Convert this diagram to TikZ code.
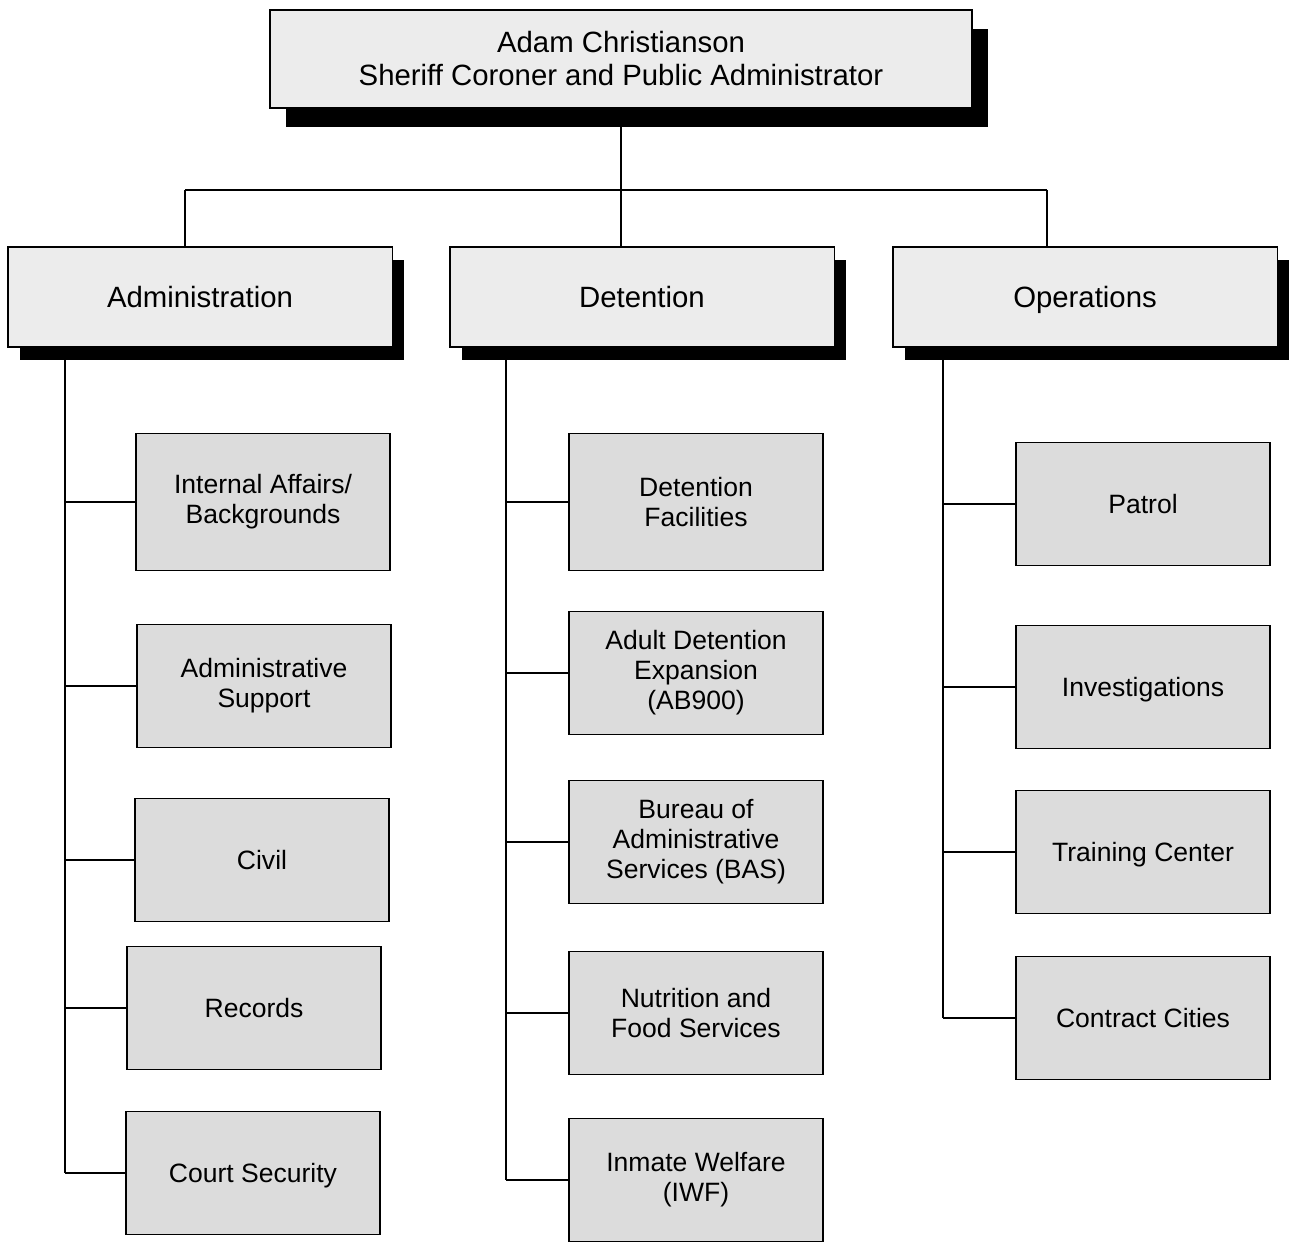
\documentclass[tikz,border=0pt]{standalone}
\usepackage{fontspec}
\setmainfont{Liberation Sans}
\usetikzlibrary{positioning, shadows}
\definecolor{cHead}{HTML}{ECECEC}
\definecolor{cUnit}{HTML}{DCDCDC}

\begin{document}
\begin{tikzpicture}[
  x=0.02cm, y=-0.02cm,
  box/.style={rectangle, draw, line width=1.1pt, align=center, inner sep=2pt},
  head/.style={box, fill=cHead, minimum width=14.04cm, minimum height=1.96cm,
               font=\fontsize{16.7}{18.8}\selectfont,
               drop shadow={shadow xshift=0.32cm, shadow yshift=-0.38cm, fill=black, opacity=1}},
  div/.style={box, fill=cHead, minimum width=7.7cm, minimum height=2cm,
              text height=12pt, text depth=0pt,
              font=\fontsize{16.7}{18.8}\selectfont,
              drop shadow={shadow xshift=0.24cm, shadow yshift=-0.26cm, fill=black, opacity=1}},
  unit/.style={box, fill=cUnit, minimum width=5.08cm, minimum height=2.46cm,
               font=\fontsize{15.1}{17.1}\selectfont},
  tall/.style={unit, minimum height=2.74cm},
  oneline/.style={unit, text height=11pt, text depth=0pt},
  link/.style={line width=1.1pt},
]
\useasboundingbox (0,0) rectangle (1290,1246);

\node[head] (top) at (621,59) {Adam Christianson\\Sheriff Coroner and Public Administrator};

\node[div] (adm) at (200,297) {Administration};
\node[div] (det) at (642,297) {Detention};
\node[div] (ops) at (1085,297) {Operations};

\node[tall] (ia)     at (263,502)  {Internal Affairs/\\Backgrounds};
\node[unit] (as)     at (264,686)  {Administrative\\Support};
\node[oneline] (civ) at (262,860)  {Civil};
\node[oneline] (rec) at (254,1008) {Records};
\node[oneline] (cs)  at (253,1173) {Court Security};

\node[tall] (df)  at (696,502)  {Detention\\Facilities};
\node[unit] (ade) at (696,673)  {Adult Detention\\Expansion\\(AB900)};
\node[unit] (bas) at (696,842)  {Bureau of\\Administrative\\Services (BAS)};
\node[unit] (nfs) at (696,1013) {Nutrition and\\Food Services};
\node[unit] (iwf) at (696,1180) {Inmate Welfare\\(IWF)};

\node[oneline] (pat) at (1143,504)  {Patrol};
\node[oneline] (inv) at (1143,687)  {Investigations};
\node[oneline] (tc)  at (1143,852)  {Training Center};
\node[oneline] (cc)  at (1143,1018) {Contract Cities};

\coordinate (admdrop) at (185,190);
\coordinate (detdrop) at (621,190);
\coordinate (opsdrop) at (1047,190);
\coordinate (admx) at (65,0);
\coordinate (detx) at (506,0);
\coordinate (opsx) at (943,0);

\draw[link] (top.south) -- (detdrop) -- (detdrop |- det.north);
\draw[link] (admdrop) -- (opsdrop);
\draw[link] (admdrop) -- (admdrop |- adm.north);
\draw[link] (opsdrop) -- (opsdrop |- ops.north);

\draw[link] (adm.south -| admx) -- (cs.west -| admx);
\draw[link] (det.south -| detx) -- (iwf.west -| detx);
\draw[link] (ops.south -| opsx) -- (cc.west -| opsx);
\foreach \n in {ia,as,civ,rec,cs}
  \draw[link] (\n.west) -- (\n.west -| admx);
\foreach \n in {df,ade,bas,nfs,iwf}
  \draw[link] (\n.west) -- (\n.west -| detx);
\foreach \n in {pat,inv,tc,cc}
  \draw[link] (\n.west) -- (\n.west -| opsx);
\end{tikzpicture}
\end{document}
